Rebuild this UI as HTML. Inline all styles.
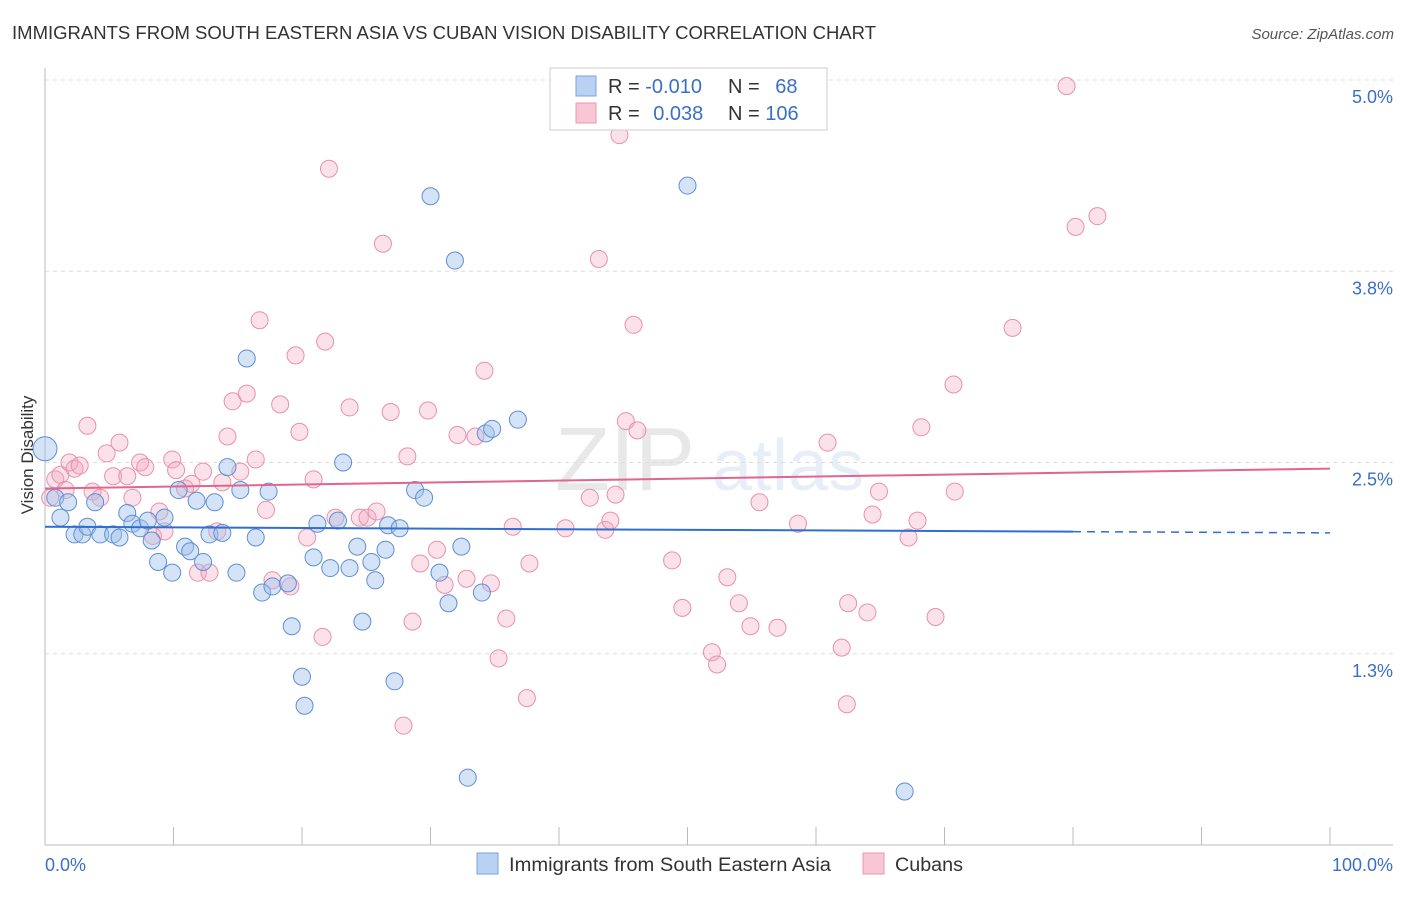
<!DOCTYPE html>
<html><head><meta charset="utf-8">
<style>
body{margin:0;background:#fff;font-family:"Liberation Sans",sans-serif;}
svg text{font-family:"Liberation Sans",sans-serif;}
</style></head>
<body>
<svg id="chart" width="1406" height="892" viewBox="0 0 1406 892" xmlns="http://www.w3.org/2000/svg">
<text x="12" y="39" font-size="18" fill="#333" textLength="864" lengthAdjust="spacingAndGlyphs">IMMIGRANTS FROM SOUTH EASTERN ASIA VS CUBAN VISION DISABILITY CORRELATION CHART</text>
<text x="1394" y="39" font-size="15" fill="#555" font-style="italic" text-anchor="end">Source: ZipAtlas.com</text>
<g opacity="0.13">
<text x="555" y="490" font-size="90" font-family="Liberation Serif" fill="#555">ZIP</text>
<text x="712" y="490" font-size="72" fill="#4a7fc4">atlas</text>
</g>
<g id="grid"></g>
<g id="axes"></g>
<g id="pink"></g>
<g id="blue"></g>
<g id="trends"></g>
<text transform="translate(33,455) rotate(-90)" font-size="17" fill="#333" text-anchor="middle">Vision Disability</text>
<g>
<rect x="550" y="68" width="277" height="62" fill="#fff" stroke="#ccc"/>
<rect x="576" y="76" width="20" height="20" fill="#b9d1f2" stroke="#7aa3dc"/>
<rect x="576" y="103" width="20" height="20" fill="#f8c6d4" stroke="#e897ad"/>
<text x="608" y="93" font-size="20" fill="#333">R = <tspan fill="#3a6fc8">-0.010</tspan></text>
<text x="728" y="93" font-size="20" fill="#333">N = <tspan fill="#3a6fc8" dx="10">68</tspan></text>
<text x="608" y="120" font-size="20" fill="#333">R = <tspan fill="#3a6fc8" dx="8">0.038</tspan></text>
<text x="728" y="120" font-size="20" fill="#333">N = <tspan fill="#3a6fc8">106</tspan></text>
</g>
<g>
<rect x="477" y="853" width="21" height="21" fill="#b9d1f2" stroke="#7aa3dc"/>
<text x="509" y="871" font-size="19" fill="#333" textLength="322" lengthAdjust="spacingAndGlyphs">Immigrants from South Eastern Asia</text>
<rect x="863" y="853" width="21" height="21" fill="#f8c6d4" stroke="#e897ad"/>
<text x="895" y="871" font-size="19" fill="#333" textLength="68" lengthAdjust="spacingAndGlyphs">Cubans</text>
</g>
<text x="45" y="871" font-size="18" fill="#3a6fc8">0.0%</text>
<text x="1393" y="871" font-size="18" fill="#3a6fc8" text-anchor="end">100.0%</text>
</svg>
<script>
const yTicks=[1.25,2.5,3.75,5.0];
const yTickLabels=["1.3%","2.5%","3.8%","5.0%"];
const xTicks=[0,10,20,30,40,50,60,70,80,90,100];
const blueX=[0.0,1.2,0.8,1.8,2.3,2.9,3.3,3.9,4.3,5.3,5.8,6.4,6.8,7.4,8.0,8.3,8.8,9.3,9.9,10.4,10.9,11.3,11.8,12.3,12.8,13.2,13.8,14.2,14.9,15.2,15.7,16.4,16.9,17.4,17.7,18.9,19.2,20.0,20.2,20.9,21.2,22.2,22.8,23.2,23.7,24.3,24.7,25.4,25.7,26.5,26.7,27.2,27.6,28.8,29.5,30.0,30.7,31.4,31.9,32.4,32.9,34.0,34.3,34.8,36.8,50.0,66.9];
const blueY=[2.59,2.14,2.27,2.24,2.03,2.03,2.08,2.24,2.03,2.03,2.01,2.17,2.10,2.07,2.12,1.99,1.85,2.14,1.78,2.32,1.95,1.92,2.25,1.85,2.03,2.24,2.04,2.47,1.78,2.32,3.18,2.01,1.65,2.31,1.69,1.71,1.43,1.10,0.91,1.88,2.10,1.81,2.12,2.50,1.81,1.95,1.46,1.85,1.73,1.93,2.09,1.07,2.07,2.32,2.27,4.24,1.78,1.58,3.82,1.95,0.44,1.65,2.69,2.72,2.78,4.31,0.35];
const pinkX=[0.4,0.8,1.2,1.6,1.9,2.3,2.7,3.3,3.7,4.3,4.8,5.3,5.8,6.4,6.8,7.4,7.8,8.4,8.9,9.3,9.9,10.2,10.9,11.4,11.9,12.3,12.8,13.4,13.8,14.2,14.6,15.2,15.7,16.4,16.7,17.2,17.7,18.3,19.1,19.5,19.8,20.4,20.9,21.6,21.8,22.1,22.6,23.7,24.5,25.1,25.8,26.3,26.9,27.9,28.2,28.6,29.2,29.8,30.5,31.1,32.1,32.8,33.5,34.2,34.7,35.3,35.9,36.4,37.5,37.7,40.5,42.4,43.1,43.6,44.0,44.4,44.7,45.2,45.8,46.1,48.8,49.6,51.9,52.3,53.1,54.0,54.9,55.6,57.0,58.6,60.9,62.0,62.5,62.4,64.0,64.4,64.9,67.2,67.9,68.2,69.3,70.7,70.8,75.3,79.5,80.2,81.9];
const pinkY=[2.27,2.39,2.42,2.32,2.50,2.46,2.48,2.74,2.31,2.27,2.56,2.41,2.63,2.41,2.27,2.50,2.47,2.02,2.18,2.05,2.52,2.45,2.33,2.36,1.78,2.44,1.78,2.05,2.37,2.67,2.90,2.44,2.95,2.52,3.43,2.19,1.73,2.88,1.69,3.20,2.70,2.01,2.39,1.36,3.29,4.42,2.14,2.86,2.14,2.14,2.18,3.93,2.83,0.78,2.54,1.46,1.84,2.84,1.93,1.70,2.68,1.74,2.67,3.10,1.71,1.22,1.48,2.08,0.96,1.84,2.07,2.27,3.83,2.06,2.12,2.29,4.64,2.77,3.40,2.71,1.86,1.55,1.26,1.18,1.75,1.58,1.43,2.24,1.42,2.10,2.63,1.29,1.58,0.92,1.52,2.16,2.31,2.01,2.12,2.73,1.49,3.01,2.31,3.38,4.96,4.04,4.11];
const blueTrend=[2.08,2.04];
const pinkTrend=[2.33,2.46];

const NS="http://www.w3.org/2000/svg";
const X0=45,X1=1330,YB=845,PXPER=153;
function xs(v){return X0+(X1-X0)*v/100;}
function ys(v){return YB-v*PXPER;}
function mk(tag,attrs,parent){const e=document.createElementNS(NS,tag);for(const k in attrs)e.setAttribute(k,attrs[k]);parent.appendChild(e);return e;}

const grid=document.getElementById('grid');
yTicks.forEach((t,i)=>{
  const l=mk('line',{x1:X0,x2:1393,y1:ys(t),y2:ys(t),stroke:'#ddd','stroke-dasharray':'4,4'},grid);
  
  
  const tx=mk('text',{x:1393,y:ys(t)+23,'font-size':18,fill:'#3a6fc8','text-anchor':'end'},grid);
  tx.textContent=yTickLabels[i];
  
  
});
const axes=document.getElementById('axes');
const xa=mk('line',{x1:X0,x2:1393,y1:YB,y2:YB,stroke:'#bbb'},axes);


const ya=mk('line',{x1:X0,x2:X0,y1:68,y2:YB,stroke:'#bbb'},axes);


xTicks.forEach(t=>{
  const l=mk('line',{x1:xs(t),x2:xs(t),y1:YB,y2:YB-18,stroke:'#bbb'},axes);
  
  
});
const pink=document.getElementById('pink');
pinkX.forEach((v,i)=>{
  const c=mk('circle',{cx:xs(v),cy:ys(pinkY[i]),r:8.5,fill:'rgba(244,170,192,0.35)',stroke:'#e891aa','stroke-width':1},pink);
  
  
});
const blue=document.getElementById('blue');
blueX.forEach((v,i)=>{
  const c=mk('circle',{cx:xs(v),cy:ys(blueY[i]),r:i===0?12:8.5,fill:'rgba(160,192,236,0.45)',stroke:'#5f8fd2','stroke-width':1},blue);
  
  
});
const tr=document.getElementById('trends');
const bEnd=80;
const bMid=blueTrend[0]+(blueTrend[1]-blueTrend[0])*bEnd/100;
const b1=mk('line',{x1:xs(0),y1:ys(blueTrend[0]),x2:xs(bEnd),y2:ys(bMid),stroke:'#2f6fd0','stroke-width':2},tr);


const b2=mk('line',{x1:xs(bEnd),y1:ys(bMid),x2:xs(100),y2:ys(blueTrend[1]),stroke:'#2f6fd0','stroke-width':1.5,'stroke-dasharray':'8,6'},tr);


const p1=mk('line',{x1:xs(0),y1:ys(pinkTrend[0]),x2:xs(100),y2:ys(pinkTrend[1]),stroke:'#e0668f','stroke-width':2},tr);


</script>
</body></html>
